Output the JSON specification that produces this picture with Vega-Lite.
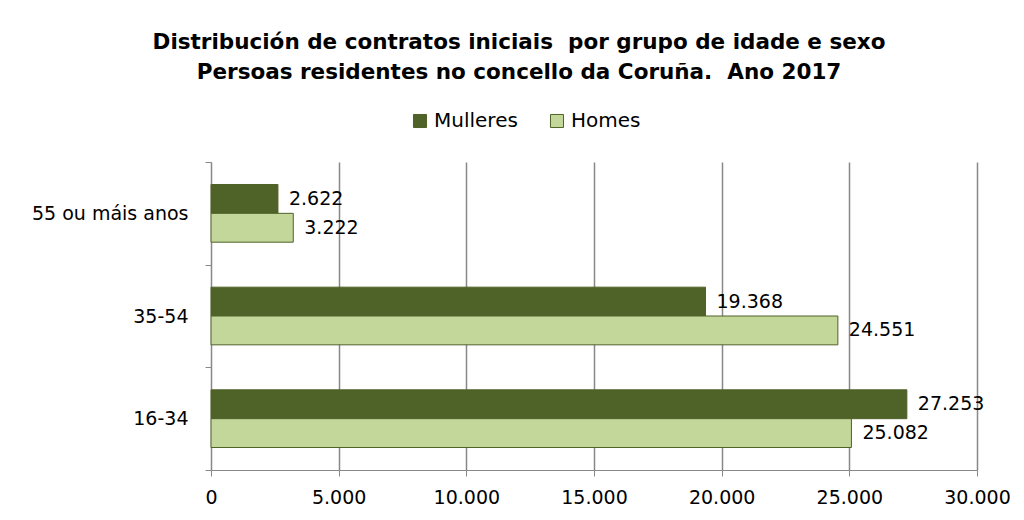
{
  "$schema": "https://vega.github.io/schema/vega-lite/v6.json",
  "width": 766,
  "height": 308,
  "autosize": {"type": "none"},
  "padding": {"left": 211, "top": 162, "right": 47, "bottom": 50},
  "config": {
    "locale": {"number": {"decimal": ",", "thousands": ".", "grouping": [3], "currency": ["", " €"]}},
    "view": {"stroke": null},
    "font": "DejaVu Sans"
  },
  "title": {
    "text": ["Distribución de contratos iniciais \u00a0por grupo de idade e sexo", "Persoas residentes no concello da Coruña. \u00a0Ano 2017"],
    "font": "DejaVu Sans",
    "fontSize": 21.5,
    "fontWeight": "bold",
    "lineHeight": 30,
    "color": "#000000",
    "anchor": "middle",
    "dx": -75,
    "offset": 28
  },
  "data": {
    "values": [
      {"grupo": "55 ou máis anos", "sexo": "Mulleres", "valor": 2622},
      {"grupo": "55 ou máis anos", "sexo": "Homes", "valor": 3222},
      {"grupo": "35-54", "sexo": "Mulleres", "valor": 19368},
      {"grupo": "35-54", "sexo": "Homes", "valor": 24551},
      {"grupo": "16-34", "sexo": "Mulleres", "valor": 27253},
      {"grupo": "16-34", "sexo": "Homes", "valor": 25082}
    ]
  },
  "encoding": {
    "y": {
      "field": "grupo",
      "type": "nominal",
      "sort": ["55 ou máis anos", "35-54", "16-34"],
      "scale": {"paddingInner": 0, "paddingOuter": 0},
      "axis": {
        "title": null,
        "tickBand": "extent",
        "domainColor": "#888888",
        "tickColor": "#888888",
        "tickSize": 6,
        "labelFontSize": 19,
        "labelColor": "#000000",
        "labelPadding": 17,
        "labelFont": "DejaVu Sans"
      }
    },
    "yOffset": {
      "field": "sexo",
      "sort": ["Mulleres", "Homes"],
      "scale": {"paddingOuter": 0.78, "paddingInner": 0}
    },
    "x": {
      "field": "valor",
      "type": "quantitative",
      "scale": {"domain": [0, 30000], "nice": false},
      "axis": {
        "title": null,
        "values": [0, 5000, 10000, 15000, 20000, 25000, 30000],
        "format": ",d",
        "grid": true,
        "gridColor": "#888888",
        "gridWidth": 1.5,
        "domainColor": "#888888",
        "tickColor": "#888888",
        "tickSize": 6,
        "labelFontSize": 19,
        "labelColor": "#000000",
        "labelPadding": 12,
        "labelFlush": false,
        "labelFont": "DejaVu Sans"
      }
    }
  },
  "layer": [
    {
      "mark": {"type": "bar", "stroke": "#4F6228", "strokeWidth": 1},
      "encoding": {
        "color": {
          "field": "sexo",
          "type": "nominal",
          "scale": {"domain": ["Mulleres", "Homes"], "range": ["#4F6228", "#C4D79B"]},
          "legend": {
            "title": null,
            "orient": "none",
            "direction": "horizontal",
            "legendX": 199,
            "legendY": -51,
            "symbolType": "square",
            "symbolSize": 170,
            "symbolStrokeColor": "#4F6228",
            "symbolStrokeWidth": 1,
            "labelFontSize": 20,
            "labelFont": "DejaVu Sans",
            "labelColor": "#000000",
            "columnPadding": 29,
            "labelOffset": 4
          }
        }
      }
    },
    {
      "mark": {"type": "text", "align": "left", "baseline": "middle", "dx": 11, "fontSize": 19, "color": "#000000", "font": "DejaVu Sans"},
      "encoding": {
        "text": {"field": "valor", "type": "quantitative", "format": ",d"}
      }
    }
  ]
}
